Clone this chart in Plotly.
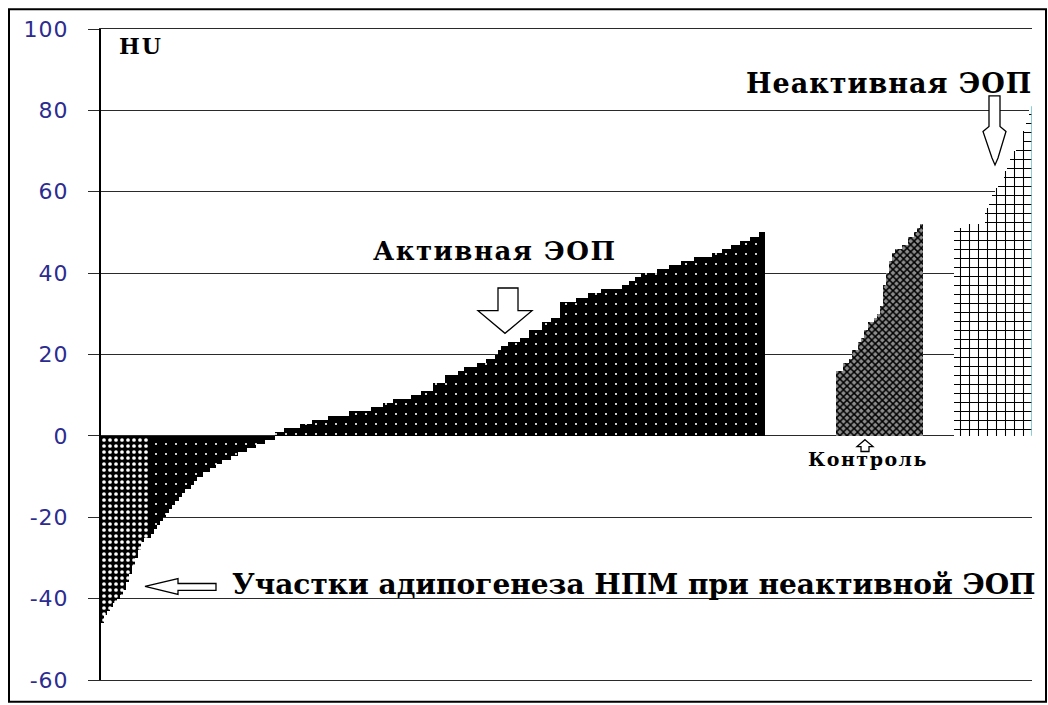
import plotly.graph_objects as go

# Hounsfield-unit values of each measured site, sorted within every group
adipo_hu = [-46, -44, -43, -42, -41, -40, -39, -38, -36, -34, -32, -30, -28, -26, -25]

active_hu = [
    -25, -24, -23, -22, -21, -20, -19, -18, -17, -16,
    -15, -14, -13, -13, -12, -11, -10, -10, -9, -9,
    -8, -8, -7, -7, -6, -6, -6, -5, -5, -4,
    -4, -4, -3, -3, -3, -2, -2, -2, -1, -1,
    -1, 1, 1, 1, 2, 2, 2, 2, 2, 3,
    3, 3, 3, 4, 4, 4, 4, 4, 5, 5,
    5, 5, 5, 5, 5, 6, 6, 6, 6, 6,
    6, 6, 7, 7, 7, 7, 8, 8, 8, 9,
    9, 9, 9, 9, 9, 10, 10, 10, 11, 11,
    11, 11, 13, 13, 13, 13, 15, 15, 15, 15,
    16, 16, 17, 17, 17, 17, 18, 18, 18, 19,
    19, 19, 20, 21, 22, 22, 23, 23, 23, 23,
    24, 24, 24, 26, 26, 26, 26, 28, 28, 28,
    29, 29, 29, 33, 33, 33, 33, 33, 34, 34,
    34, 34, 35, 35, 35, 35, 36, 36, 36, 36,
    36, 36, 36, 37, 37, 38, 38, 39, 39, 40,
    40, 40, 40, 40, 41, 41, 41, 41, 42, 42,
    42, 42, 43, 43, 43, 43, 44, 44, 44, 44,
    44, 44, 45, 45, 45, 46, 46, 46, 47, 47,
    47, 48, 48, 48, 49, 49, 49, 50, 50,
]

control_hu = [16, 16, 18, 18, 19, 21, 21, 23, 24, 26, 28, 28, 29, 30, 32,
              37, 40, 43, 45, 46, 46, 47, 47, 49, 49, 50, 51, 52]

inactive_hu = [51, 51, 51, 52, 52, 52, 52, 52, 52, 52, 56, 58, 60, 61, 62,
               63, 65, 67, 69, 70, 71, 72, 75, 78, 81]

y_ticks = [-60, -40, -20, 0, 20, 40, 60, 80, 100]

# first slot of every group on the shared x scale (one slot per site)
ADIPO_START, ACTIVE_START, CONTROL_START, INACTIVE_START = 0, 15, 237, 275
N_SLOTS = 300

W, H = 1048, 705
L, R, T, B = 101, 1032, 29, 690


def pp(x, y):
    """pixel position -> paper coordinates"""
    return (x - L) / (R - L), (B - y) / (B - T)


def path(points):
    pts = [pp(x, y) for x, y in points]
    return "M " + " L ".join(f"{a:.5f},{b:.5f}" for a, b in pts) + " Z"


def slots(start, values):
    return list(range(start, start + len(values)))


def spaced(text, px):
    return f'<span style="letter-spacing:{px}px">{text}</span>'


fig = go.Figure()

fig.add_bar(
    x=slots(ADIPO_START, adipo_hu), y=adipo_hu, width=1,
    marker=dict(color="black", line=dict(width=0),
                pattern=dict(shape=".", bgcolor="black", fgcolor="white",
                             size=6, solidity=0.3, fillmode="replace")),
)
fig.add_bar(
    x=slots(ACTIVE_START, active_hu), y=active_hu, width=1,
    marker=dict(color="black", line=dict(width=0),
                pattern=dict(shape=".", bgcolor="black", fgcolor="white",
                             size=10, solidity=0.035, fillmode="replace")),
)
fig.add_bar(
    x=slots(CONTROL_START, control_hu), y=control_hu, width=1,
    marker=dict(color="black", line=dict(width=0),
                pattern=dict(shape="x", bgcolor="#8c8c8c", fgcolor="black",
                             size=5, solidity=0.5, fillmode="replace")),
)
fig.add_bar(
    x=slots(INACTIVE_START, inactive_hu), y=inactive_hu, width=1,
    marker=dict(color="black", line=dict(width=0),
                pattern=dict(shape="+", bgcolor="white", fgcolor="black",
                             size=9, solidity=0.22, fillmode="replace")),
)
# coloured edge of the last bar
fig.add_scatter(
    x=[N_SLOTS - 0.5, N_SLOTS - 0.5], y=[0, inactive_hu[-1]], mode="lines",
    line=dict(color="#62c3cc", width=1.5), hoverinfo="skip",
)

serif = dict(family="DejaVu Serif", color="black", weight="bold")

annotations = [
    dict(text=spaced("HU", 2), x=pp(141, 46)[0], y=pp(141, 46)[1],
         xanchor="center", yanchor="middle", font=dict(size=22, **serif)),
    dict(text=spaced("Активная ЭОП", 1.5), x=pp(494, 254)[0], y=pp(494, 254)[1],
         xanchor="center", yanchor="middle", font=dict(size=26, **serif)),
    dict(text=spaced("Неактивная ЭОП", 1), x=pp(1034, 84)[0], y=pp(1034, 84)[1],
         xanchor="right", yanchor="middle", font=dict(size=27, **serif)),
    dict(text=spaced("Контроль", 1.5), x=pp(868, 466)[0], y=pp(868, 466)[1],
         xanchor="center", yanchor="middle", font=dict(size=19, **serif)),
    dict(text="Участки адипогенеза НПМ при неактивной ЭОП",
         x=pp(230, 593)[0], y=pp(230, 593)[1], xanchor="left",
         yanchor="middle", font=dict(size=28, **serif)),
]
for a in annotations:
    a.update(xref="paper", yref="paper", showarrow=False)

arrow_style = dict(type="path", xref="paper", yref="paper",
                   line=dict(color="black", width=1.3), fillcolor="white",
                   layer="above")
shapes = [
    # outer frame
    dict(type="rect", xref="paper", yref="paper",
         x0=pp(9, 9)[0], y0=pp(9, 9)[1], x1=pp(1046, 712)[0], y1=pp(1046, 712)[1],
         line=dict(color="black", width=2), layer="above"),
    # arrow above the active group
    dict(path=path([(498, 292), (518, 292), (518, 315), (532, 315),
                    (505, 338), (478, 315), (498, 315)]), **arrow_style),
    # arrow over the inactive group
    dict(path=path([(989, 97), (1000, 97), (1000, 128), (1006, 133),
                    (998, 160), (995, 167), (992, 160), (983, 133),
                    (989, 128)]), **arrow_style),
    # small arrow under the control group
    dict(path=path([(865, 446), (873, 453), (869, 453), (869, 458),
                    (861, 458), (861, 453), (857, 453)]), **arrow_style),
    # left-pointing arrow to the adipogenesis sites
    dict(path=path([(145, 595), (178, 587), (178, 592), (216, 592),
                    (216, 599), (178, 599), (178, 603)]), **arrow_style),
]

fig.update_layout(
    width=W, height=H,
    margin=dict(l=L, r=W - R, t=T, b=H - B, pad=0),
    paper_bgcolor="white", plot_bgcolor="white",
    showlegend=False, barmode="overlay", bargap=0,
    annotations=annotations, shapes=shapes,
    xaxis=dict(range=[-0.5, N_SLOTS - 0.5], showticklabels=False, ticks="",
               showgrid=False, zeroline=False, showline=True, mirror=True,
               linecolor="#2a2a2a", linewidth=1, fixedrange=True),
    yaxis=dict(
        range=[-60, 100], tickvals=y_ticks,
        ticktext=[spaced(str(v), 1) for v in y_ticks],
        showgrid=True, gridcolor="#2a2a2a", gridwidth=1, zeroline=False,
        showline=True, linecolor="black", linewidth=2,
        ticks="outside", ticklen=11, tickcolor="#2a2a2a", tickwidth=1,
        ticklabelstandoff=15,
        tickfont=dict(family="DejaVu Sans", size=22, color="#2c2c90"),
        fixedrange=True,
    ),
)

fig.write_html("out.html")
